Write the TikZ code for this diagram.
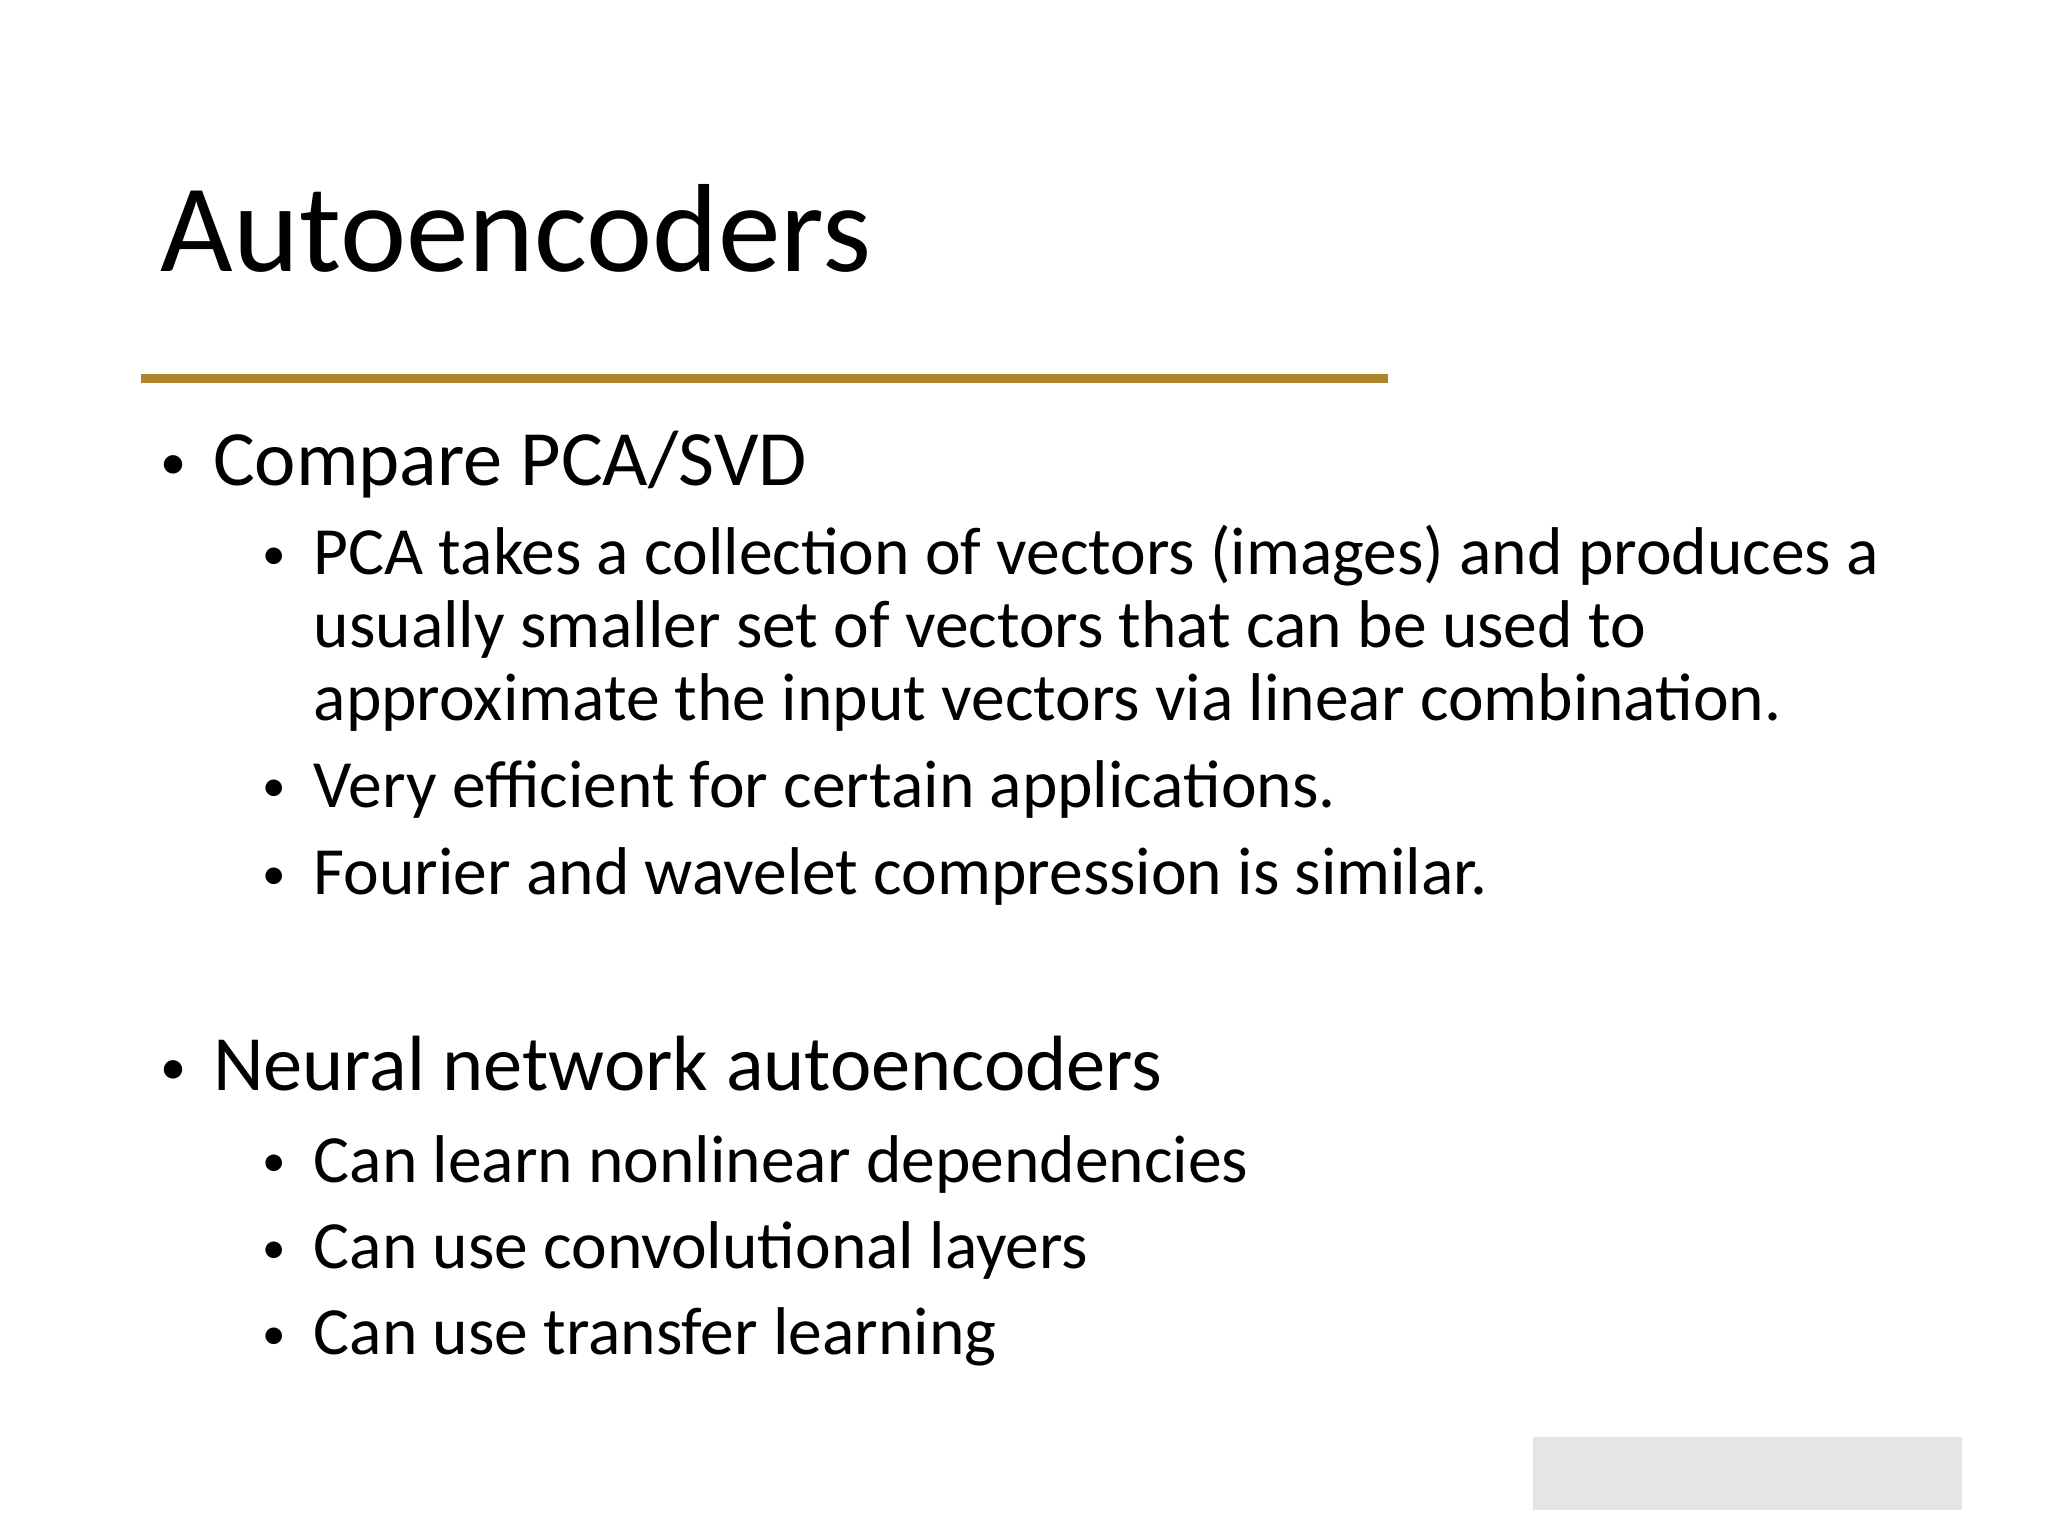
\documentclass[tikz,border=0pt]{standalone}
\usepackage{fontspec}
\setmainfont{Carlito}
\begin{document}
\begin{tikzpicture}[x=1pt,y=-1pt,
  t1/.style={anchor=base west,inner sep=0pt,font=\fontsize{60}{70}\selectfont},
  t2/.style={anchor=base west,inner sep=0pt,font=\fontsize{51.7}{56}\selectfont},
  bl/.style={anchor=base,inner sep=0pt}]
\useasboundingbox (0,0) rectangle (1568,1176);
\definecolor{gold}{HTML}{B0852A}
\node[anchor=base west,inner sep=0pt,font=\fontsize{96}{110}\selectfont] (title) at (123,208) {Autoencoders};
\draw[gold,line width=7] (108,290) -- (1063,290);
\node[t1] (a) at (163,372) {Compare PCA/SVD};
\node[bl,font=\fontsize{40}{50}\selectfont] at (133,367) {•};
\foreach \y/\txt in {440/{PCA takes a collection of vectors (images) and produces a},
  496/{usually smaller set of vectors that can be used to},
  552/{approximate the input vectors via linear combination.},
  618/{Very efficient for certain applications.},
  685/{Fourier and wavelet compression is similar.},
  905/{Can learn nonlinear dependencies},
  971/{Can use convolutional layers},
  1037/{Can use transfer learning}}
  \node[t2] at (240,\y) {\txt};
\foreach \y in {440,618,685,905,971,1037}
  \node[bl,font=\fontsize{36}{44}\selectfont] at (210,\y-4) {•};
\node[t1] (b) at (163,835) {Neural network autoencoders};
\node[bl,font=\fontsize{40}{50}\selectfont] at (133,830) {•};
\fill[gray!20] (1174,1100) rectangle (1502,1156);
\end{tikzpicture}
\end{document}
